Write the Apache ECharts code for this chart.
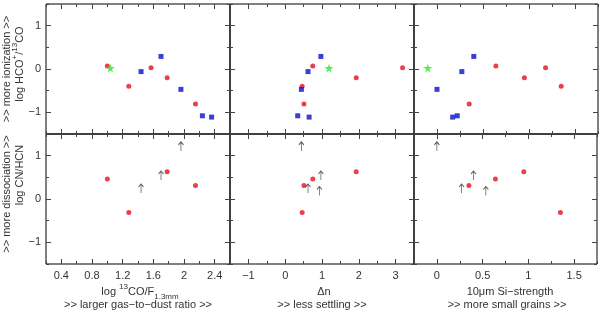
<!DOCTYPE html>
<html><head><meta charset="utf-8">
<script src="https://cdn.jsdelivr.net/npm/echarts@6/dist/echarts.min.js"></script>
<style>html,body{margin:0;padding:0;background:#fff}#c{width:600px;height:312px}</style>
</head><body><div id="c"></div>
<script>
// ---- tick labels ----
const xTicksGas = [0.4, 0.8, 1.2, 1.6, 2, 2.4];
const xTicksDn = [-1, 0, 1, 2, 3];
const xTicksSi = [0, 0.5, 1, 1.5];
const yTicks = [-1, 0, 1];

// ---- red circles (5 sources) ----
const redGas = [1.00, 1.28, 1.57, 1.78, 2.15];
const redDn  = [0.75, 0.46, 3.19, 1.93, 0.51];
const redSi  = [0.64, 1.35, 1.18, 0.95, 0.35];
const redHco = [0.07, -0.40, 0.03, -0.20, -0.81];
const redCn  = [0.46, -0.31, null, 0.63, 0.31];

// ---- blue squares / lower limits ----
const blueGas = [1.70, 1.44, 1.96, 2.24, 2.36, null];
const blueDn  = [0.97, 0.62, 0.44, 0.34, 0.65, 0.93];
const blueSi  = [0.40, 0.27, 0.00, 0.22, 0.17, 0.535];
const blueHco = [0.29, -0.06, -0.47, -1.08, -1.11, null];
const blueCnLower = [0.44, 0.14, 1.11, null, null, 0.08];

// ---- green star ----
const starGas = [1.04];
const starDn  = [1.19];
const starSi  = [-0.10];
const starHco = [0.02];

const FONT = '"Liberation Sans", Arial, Helvetica, sans-serif';
const TXT = '#333';
const TICK = '#444';
const panelLeft = [46, 230, 414];
const panelTop = [4, 134];
const PW = 184, PH = 130;

const xCfg = [
  {min: 0.2, max: 2.6, minor: 0.2, labels: xTicksGas},
  {min: -1.5, max: 3.5, minor: 0.5, labels: xTicksDn},
  {min: -0.25, max: 1.75, minor: 0.25, labels: xTicksSi}
];
const yCfg = {min: -1.5, max: 1.5, minor: 0.5, labels: yTicks};
const redX = [redGas, redDn, redSi];
const blueX = [blueGas, blueDn, blueSi];
const starX = [starGas, starDn, starSi];

function fmt(v) { return String(+v.toFixed(2)).replace('-', '\u2212'); }
function has(arr, v) { return arr.some(a => Math.abs(a - v) < 1e-6); }
function pairs(xs, ys) {
  const out = [];
  xs.forEach((x, i) => { if (x != null && ys[i] != null) out.push([x, ys[i]]); });
  return out;
}

const grids = [], xAxes = [], yAxes = [], series = [];
for (let r = 0; r < 2; r++) {
  for (let c = 0; c < 3; c++) {
    const g = r * 3 + c;
    grids.push({left: panelLeft[c], top: panelTop[r], width: PW, height: PH,
      show: true, borderColor: '#000', borderWidth: 1, backgroundColor: 'transparent'});
    const xc = xCfg[c];
    ['bottom', 'top'].forEach(pos => {
      xAxes.push({type: 'value', gridIndex: g, position: pos, min: xc.min, max: xc.max, interval: xc.minor,
        axisLine: {show: false, onZero: false}, splitLine: {show: false},
        axisTick: {show: true, inside: true, length: 3, lineStyle: {color: TICK}},
        axisLabel: {show: pos === 'bottom' && r === 1, margin: 6, fontSize: 11, color: TXT, fontFamily: FONT,
          formatter: v => has(xc.labels, v) ? fmt(v) : ''}});
      xAxes.push({type: 'value', gridIndex: g, position: pos, min: xc.min, max: xc.max,
        axisLine: {show: false, onZero: false}, splitLine: {show: false},
        axisTick: {show: true, inside: true, length: 5, customValues: xc.labels, lineStyle: {color: TICK}},
        axisLabel: {show: false}});
    });
    ['left', 'right'].forEach(pos => {
      yAxes.push({type: 'value', gridIndex: g, position: pos, min: yCfg.min, max: yCfg.max, interval: yCfg.minor,
        axisLine: {show: false, onZero: false}, splitLine: {show: false},
        axisTick: {show: true, inside: true, length: 3, lineStyle: {color: TICK}},
        axisLabel: {show: pos === 'left' && c === 0, margin: 5, fontSize: 11, color: TXT, fontFamily: FONT,
          formatter: v => has(yCfg.labels, v) ? fmt(v) : ''}});
      yAxes.push({type: 'value', gridIndex: g, position: pos, min: yCfg.min, max: yCfg.max,
        axisLine: {show: false, onZero: false}, splitLine: {show: false},
        axisTick: {show: true, inside: true, length: 5, customValues: yCfg.labels, lineStyle: {color: TICK}},
        axisLabel: {show: false}});
    });
    const xi = g * 4, yi = g * 4;
    if (r === 0) {
      series.push({type: 'scatter', xAxisIndex: xi, yAxisIndex: yi, data: pairs(redX[c], redHco),
        symbol: 'circle', symbolSize: 5, itemStyle: {color: '#e3101c'}});
      series.push({type: 'scatter', xAxisIndex: xi, yAxisIndex: yi, data: pairs(blueX[c], blueHco),
        symbol: 'rect', symbolSize: 5, itemStyle: {color: '#0a0fcc'}});
      series.push({type: 'scatter', xAxisIndex: xi, yAxisIndex: yi, data: pairs(starX[c], starHco),
        symbol: 'path://M12,0 L14.8,8.6 L23.8,8.6 L16.5,13.9 L19.3,22.5 L12,17.2 L4.7,22.5 L7.5,13.9 L0.2,8.6 L9.2,8.6 Z',
        symbolSize: [9, 9], itemStyle: {color: '#2be82b'}});
    } else {
      series.push({type: 'scatter', xAxisIndex: xi, yAxisIndex: yi, data: pairs(redX[c], redCn),
        symbol: 'circle', symbolSize: 5, itemStyle: {color: '#e3101c'}});
      series.push({type: 'scatter', xAxisIndex: xi, yAxisIndex: yi, data: pairs(blueX[c], blueCnLower),
        symbol: 'path://M5,0 L5,18 M1,6 L5,0 L9,6', symbolSize: [5, 9], symbolOffset: [0, -4.5],
        itemStyle: {color: 'none', borderColor: '#333', borderWidth: 1}});
    }
  }
}

const rich = {
  n: {fontSize: 11, fontFamily: FONT, fill: TXT, lineHeight: 18},
  sup: {fontSize: 8, fontFamily: FONT, fill: TXT, verticalAlign: 'top', lineHeight: 10},
  sub: {fontSize: 8, fontFamily: FONT, fill: TXT, verticalAlign: 'bottom', lineHeight: 10}
};
function txt(x, y, text, rot) {
  return {type: 'text', x: x, y: y, rotation: rot ? Math.PI / 2 : 0, silent: true,
    style: {text: text, rich: rich, fontSize: 11, fontFamily: FONT, fill: TXT,
      align: 'center', verticalAlign: 'middle', textAlign: 'center', textVerticalAlign: 'middle'}};
}

const chart = echarts.init(document.getElementById('c'), null, {renderer: 'canvas'});
chart.setOption({
  animation: false,
  backgroundColor: '#fff',
  grid: grids, xAxis: xAxes, yAxis: yAxes, series: series,
  graphic: [
    txt(7, 69, '{n|>> more ionization >>}', true),
    txt(20, 64, '{n|log HCO}{sup|+}{n|/}{sup|13}{n|CO}', true),
    txt(7, 194, '{n|>> more dissociation >>}', true),
    txt(20, 175, '{n|log CN/HCN}', true),
    txt(140, 292, '{n|log }{sup|13}{n|CO/F}{sub|1.3mm}', false),
    txt(138, 305, '{n|>> larger gas\u2212to\u2212dust ratio >>}', false),
    txt(324, 292, '{n|\u0394n}', false),
    txt(322, 305, '{n|>> less settling >>}', false),
    txt(510, 292, '{n|10\u03bcm Si\u2212strength}', false),
    txt(507, 305, '{n|>> more small grains >>}', false)
  ]
});
</script></body></html>
